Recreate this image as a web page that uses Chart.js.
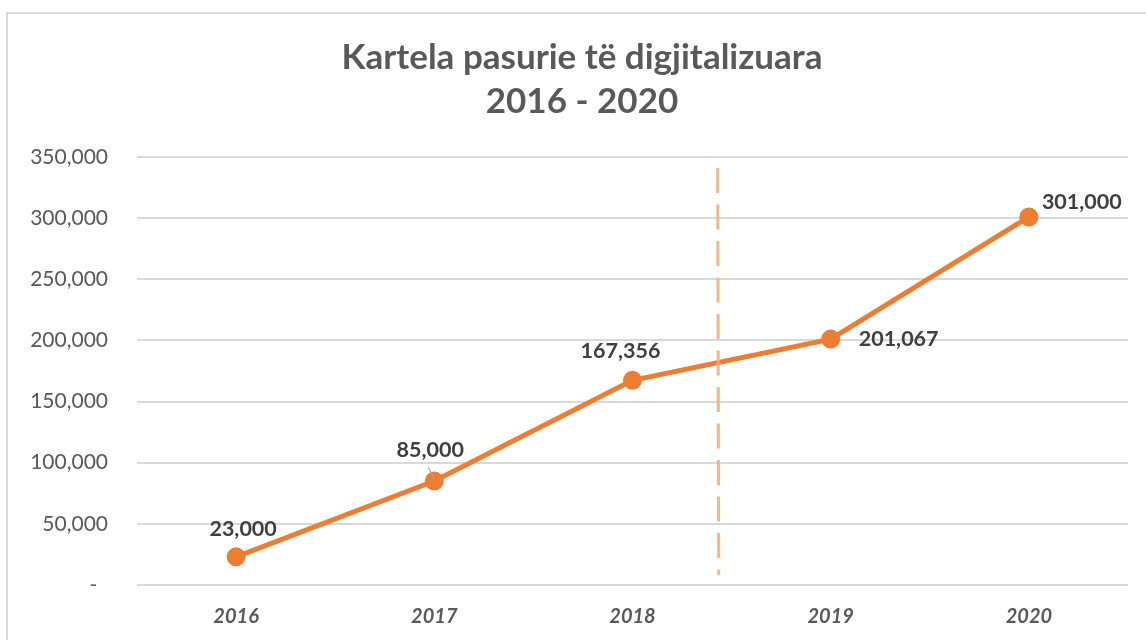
<!DOCTYPE html>
<html>
<head>
<meta charset="utf-8">
<script src="https://cdn.jsdelivr.net/npm/chart.js@4.4.1/dist/chart.umd.min.js"></script>
<style>
  html, body { margin: 0; padding: 0; background: #fff; }
  #wrap { position: relative; width: 1146px; height: 640px; overflow: hidden; }
  #frame { position: absolute; left: 6px; top: 12px; width: 1200px; height: 700px;
           border-left: 2px solid #D9D9D9; border-top: 2px solid #D9D9D9; box-sizing: border-box; }
  canvas { position: absolute; left: 0; top: 0; }
</style>
</head>
<body>
<div id="wrap">
  <div id="frame"></div>
  <canvas id="c" width="1146" height="640"></canvas>
</div>
<script>
// ---- data ----
const titleLines = ['Kartela pasurie të digjitalizuara', '2016 - 2020'];
const years = ['2016', '2017', '2018', '2019', '2020'];
const cards = [23000, 85000, 167356, 201067, 301000];
const yTicksMax = 350000;
const yTickStep = 50000;
// divider between 2018 and 2019 (category position, value span)
const dividerAt = 2.43;
const dividerSpan = [341000, 8000];

// ---- label placement (style config) ----
const labelPlacement = [
  { dx: 7,   dy: -28, align: 'center' },
  { dx: -4,  dy: -31, align: 'center', leader: true },
  { dx: -12, dy: -29, align: 'center' },
  { dx: 28,  dy: 0,   align: 'left' },
  { dx: 13,  dy: -15, align: 'left' }
];

const fmt = v => v.toLocaleString('en-US');

const titleShift = {
  id: 'titleShift',
  afterLayout(chart) {
    if (chart.titleBlock) chart.titleBlock.left = 36;
  }
};

const dataLabels = {
  id: 'dataLabels',
  afterDatasetsDraw(chart) {
    const ctx = chart.ctx;
    const meta = chart.getDatasetMeta(0);
    ctx.save();
    ctx.font = 'bold 21.5px Lato';
    ctx.fillStyle = '#404040';
    ctx.textBaseline = 'middle';
    meta.data.forEach((pt, i) => {
      const p = labelPlacement[i];
      const x = pt.x + p.dx, y = pt.y + p.dy;
      if (p.leader) {
        ctx.strokeStyle = '#A6A6A6';
        ctx.lineWidth = 1.2;
        ctx.beginPath();
        ctx.moveTo(x - 2, y + 17);
        ctx.lineTo(pt.x, pt.y - 2);
        ctx.stroke();
      }
      ctx.textAlign = p.align;
      ctx.fillText(fmt(chart.data.datasets[0].data[i]), x, y);
    });
    ctx.restore();
  }
};

const divider = {
  id: 'divider',
  afterDatasetsDraw(chart) {
    const xs = chart.scales.x, ys = chart.scales.y;
    const i0 = Math.floor(dividerAt);
    const x = xs.getPixelForValue(i0) + (dividerAt - i0) * (xs.getPixelForValue(i0 + 1) - xs.getPixelForValue(i0));
    const ctx = chart.ctx;
    ctx.save();
    ctx.strokeStyle = 'rgba(244,177,131,0.95)';
    ctx.lineWidth = 3;
    ctx.setLineDash([25, 11.5]);
    ctx.beginPath();
    ctx.moveTo(x, ys.getPixelForValue(dividerSpan[0]));
    ctx.lineTo(x + 1, ys.getPixelForValue(dividerSpan[1]));
    ctx.stroke();
    ctx.restore();
  }
};

new Chart(document.getElementById('c'), {
  type: 'line',
  data: {
    labels: years,
    datasets: [{
      data: cards,
      borderColor: '#ED7D31',
      backgroundColor: '#ED7D31',
      borderWidth: 5,
      pointRadius: 7,
      pointBackgroundColor: '#ED7D31',
      pointBorderColor: '#ED7D31',
      tension: 0
    }]
  },
  options: {
    responsive: false,
    animation: false,
    devicePixelRatio: 1,
    layout: { padding: { left: 0, right: 18, top: 0, bottom: 0 } },
    plugins: {
      legend: { display: false },
      tooltip: { enabled: false },
      title: {
        display: true,
        text: titleLines,
        color: '#595959',
        font: { family: 'Lato', size: 35, weight: 'bold', lineHeight: 1.257 },
        padding: { top: 36, bottom: 33 }
      }
    },
    scales: {
      x: {
        offset: true,
        grid: { display: false, drawTicks: false },
        border: { display: false },
        ticks: {
          color: '#595959',
          padding: 20,
          font: { family: 'Lato', size: 20, weight: 'bold', style: 'italic' }
        },
        afterFit(s) { s.height = 55; }
      },
      y: {
        min: 0,
        max: yTicksMax,
        grid: { color: '#D9D9D9', lineWidth: 2, drawTicks: false },
        border: { display: false },
        ticks: {
          stepSize: yTickStep,
          color: '#595959',
          padding: 29,
          font: { family: 'Lato', size: 21 },
          callback: v => v === 0 ? '-  ' : fmt(v)
        },
        afterFit(s) { s.width = 137; }
      }
    }
  },
  plugins: [titleShift, divider, dataLabels]
});
</script>
</body>
</html>
